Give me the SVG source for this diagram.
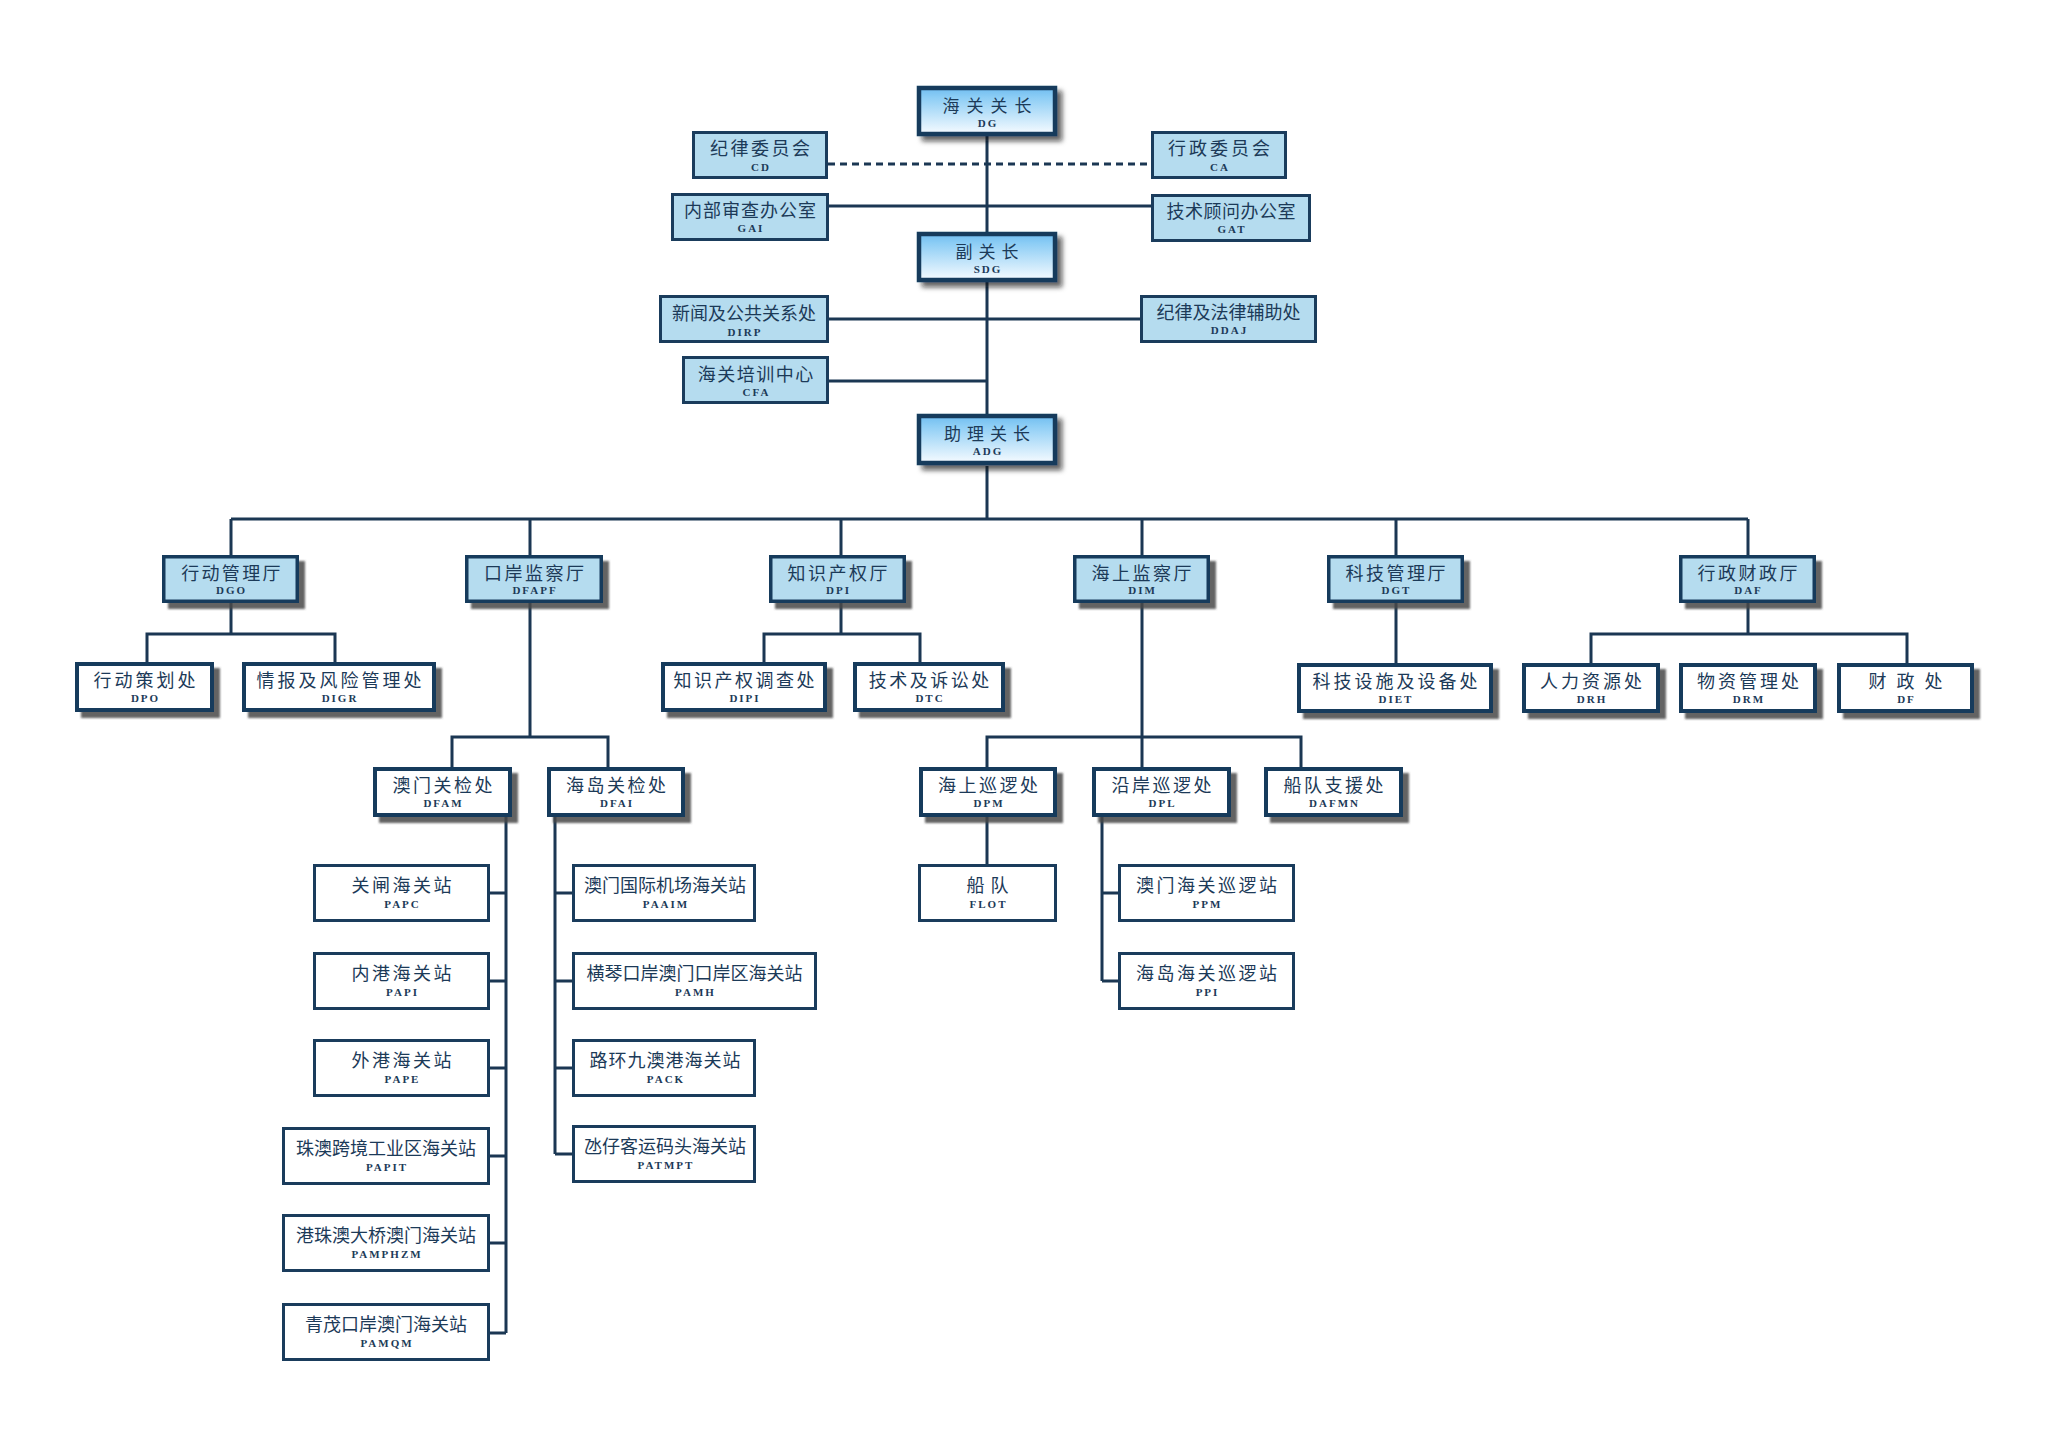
<svg xmlns="http://www.w3.org/2000/svg" width="2047" height="1440" viewBox="0 0 2047 1440">
<defs>
<linearGradient id="gtop" x1="0" y1="0" x2="0" y2="1">
<stop offset="0" stop-color="#70bdf0"/>
<stop offset="0.2" stop-color="#8ccdf5"/>
<stop offset="1" stop-color="#f6fbff"/>
</linearGradient>
<filter id="fs1" x="-20%" y="-30%" width="150%" height="170%">
<feDropShadow dx="5" dy="5" stdDeviation="2.5" flood-color="#111" flood-opacity="0.65"/>
</filter>
<filter id="fs2" x="-20%" y="-30%" width="150%" height="170%">
<feDropShadow dx="6" dy="6" stdDeviation="0.8" flood-color="#4a4a4a" flood-opacity="0.85"/>
</filter>
<style>
.bg{fill:#ffffff}
.t1{fill:url(#gtop);stroke:#123a5c;stroke-width:4.5;filter:url(#fs1)}
.t2{fill:#b5dcef;stroke:#1a3c5c;stroke-width:3}
.dp{fill:#b5dcef;stroke:#163a5c;stroke-width:3.5;filter:url(#fs2)}
.wh{fill:#ffffff;stroke:#163a5c;stroke-width:4;filter:url(#fs2)}
.st{fill:#ffffff;stroke:#1a3c5c;stroke-width:3}
.cn{font-family:"Noto Sans CJK SC","Noto Sans CJK TC",sans-serif;font-size:18px;fill:#1c3a58;text-anchor:middle}
.cn17{font-size:17px}
.ab{font-family:"Liberation Serif",serif;font-size:11px;font-weight:bold;letter-spacing:2px;fill:#1c3a58;text-anchor:middle}
.ln{fill:none;stroke:#1b3753;stroke-width:3}
.dash{fill:none;stroke:#1b3753;stroke-width:3;stroke-dasharray:7 5}
</style>
</defs>
<rect class="bg" x="0" y="0" width="2047" height="1440"/>
<g id="connectors">
<path class="dash" d="M828 164 H1151"/>
<path class="ln" d="M987 136 V232 M987 282 V414 M987 466 V519 M829 206 H1151 M829 319 H1140 M829 381 H987 M231 519 H1748 M231 519 V555 M530 519 V555 M841 519 V555 M1142 519 V555 M1396 519 V555 M1748 519 V555 M231 603 V634 M147 662 V634 H335 V662 M530 603 V737 M452 767 V737 H608 V767 M841 603 V634 M764 662 V634 H920 V662 M1142 603 V767 M987 767 V737 H1301 V767 M1396 603 V663 M1748 603 V634 M1591 663 V634 H1907 V663 M506 817 V1333 M490 893 H506 M490 981 H506 M490 1068 H506 M490 1156 H506 M490 1243 H506 M490 1333 H506 M555 817 V1154 M555 893 H572 M555 981 H572 M555 1068 H572 M555 1154 H572 M987 816 V864 M1102 816 V981 M1102 893 H1118 M1102 981 H1118"/>
</g>
<g id="DG"><rect class="t1" x="919" y="88" width="136" height="46"/><text class="cn cn17" x="990.5" y="112" style="letter-spacing:7px">海关关长</text><text class="ab" x="988" y="127">DG</text></g>
<g id="SDG"><rect class="t1" x="919" y="234" width="136" height="46"/><text class="cn cn17" x="990" y="258" style="letter-spacing:6px">副关长</text><text class="ab" x="988" y="273">SDG</text></g>
<g id="ADG"><rect class="t1" x="919" y="416" width="136" height="47"/><text class="cn cn17" x="990" y="440" style="letter-spacing:6px">助理关长</text><text class="ab" x="988" y="455">ADG</text></g>
<g id="CD"><rect class="t2" x="693.5" y="132.5" width="133" height="45"/><text class="cn" x="761.3" y="155" style="letter-spacing:2.5px">纪律委员会</text><text class="ab" x="761" y="171">CD</text></g>
<g id="CA"><rect class="t2" x="1152.5" y="132.5" width="133" height="45"/><text class="cn" x="1220.5" y="155" style="letter-spacing:3px">行政委员会</text><text class="ab" x="1220" y="171">CA</text></g>
<g id="GAI"><rect class="t2" x="672.5" y="194.5" width="155" height="45"/><text class="cn" x="750.5" y="217" style="letter-spacing:1px">内部审查办公室</text><text class="ab" x="751" y="232">GAI</text></g>
<g id="GAT"><rect class="t2" x="1152.5" y="195.5" width="157" height="45"/><text class="cn" x="1231.3" y="218" style="letter-spacing:0.5px">技术顾问办公室</text><text class="ab" x="1232" y="233">GAT</text></g>
<g id="DIRP"><rect class="t2" x="660.5" y="296.5" width="167" height="45"/><text class="cn" x="744" y="320">新闻及公共关系处</text><text class="ab" x="745" y="336">DIRP</text></g>
<g id="DDAJ"><rect class="t2" x="1141.5" y="296.5" width="174" height="45"/><text class="cn" x="1228.5" y="319">纪律及法律辅助处</text><text class="ab" x="1229.5" y="334">DDAJ</text></g>
<g id="CFA"><rect class="t2" x="683.5" y="357.5" width="144" height="45"/><text class="cn" x="756.3" y="381" style="letter-spacing:1.5px">海关培训中心</text><text class="ab" x="756.5" y="396">CFA</text></g>
<g id="DGO"><rect class="dp" x="163.75" y="556.75" width="133.5" height="44.5"/><text class="cn" x="232" y="580" style="letter-spacing:2.3px">行动管理厅</text><text class="ab" x="231.5" y="594">DGO</text></g>
<g id="DFAPF"><rect class="dp" x="466.75" y="556.75" width="134.5" height="44.5"/><text class="cn" x="535.3" y="580" style="letter-spacing:2.5px">口岸监察厅</text><text class="ab" x="535" y="594">DFAPF</text></g>
<g id="DPI"><rect class="dp" x="770.75" y="556.75" width="133.5" height="44.5"/><text class="cn" x="838.8" y="580" style="letter-spacing:2.5px">知识产权厅</text><text class="ab" x="838.5" y="594">DPI</text></g>
<g id="DIM"><rect class="dp" x="1074.75" y="556.75" width="133.5" height="44.5"/><text class="cn" x="1142.8" y="580" style="letter-spacing:2.5px">海上监察厅</text><text class="ab" x="1142.5" y="594">DIM</text></g>
<g id="DGT"><rect class="dp" x="1328.75" y="556.75" width="133.5" height="44.5"/><text class="cn" x="1396.8" y="580" style="letter-spacing:2.5px">科技管理厅</text><text class="ab" x="1396.5" y="594">DGT</text></g>
<g id="DAF"><rect class="dp" x="1680.75" y="556.75" width="133.5" height="44.5"/><text class="cn" x="1748.8" y="580" style="letter-spacing:2.5px">行政财政厅</text><text class="ab" x="1748.5" y="594">DAF</text></g>
<g id="DPO"><rect class="wh" x="77" y="664" width="135" height="46"/><text class="cn" x="146" y="687" style="letter-spacing:3px">行动策划处</text><text class="ab" x="145.5" y="702">DPO</text></g>
<g id="DIGR"><rect class="wh" x="244" y="664" width="190" height="46"/><text class="cn" x="340.5" y="687" style="letter-spacing:3px">情报及风险管理处</text><text class="ab" x="340" y="702">DIGR</text></g>
<g id="DIPI"><rect class="wh" x="663" y="664" width="162" height="46"/><text class="cn" x="745.3" y="687" style="letter-spacing:2.5px">知识产权调查处</text><text class="ab" x="745" y="702">DIPI</text></g>
<g id="DTC"><rect class="wh" x="855" y="664" width="148" height="46"/><text class="cn" x="930.3" y="687" style="letter-spacing:2.5px">技术及诉讼处</text><text class="ab" x="930" y="702">DTC</text></g>
<g id="DIET"><rect class="wh" x="1299" y="665" width="192" height="46"/><text class="cn" x="1396.5" y="688" style="letter-spacing:3px">科技设施及设备处</text><text class="ab" x="1396" y="703">DIET</text></g>
<g id="DRH"><rect class="wh" x="1524" y="665" width="134" height="46"/><text class="cn" x="1592.5" y="688" style="letter-spacing:3px">人力资源处</text><text class="ab" x="1592" y="703">DRH</text></g>
<g id="DRM"><rect class="wh" x="1681" y="665" width="134" height="46"/><text class="cn" x="1749.5" y="688" style="letter-spacing:3px">物资管理处</text><text class="ab" x="1749" y="703">DRM</text></g>
<g id="DF"><rect class="wh" x="1839" y="665" width="133" height="46"/><text class="cn" x="1910.5" y="688" style="letter-spacing:10px">财政处</text><text class="ab" x="1906.5" y="703">DF</text></g>
<g id="DFAM"><rect class="wh" x="375" y="769" width="135" height="46"/><text class="cn" x="443.8" y="792" style="letter-spacing:2.5px">澳门关检处</text><text class="ab" x="443.5" y="807">DFAM</text></g>
<g id="DFAI"><rect class="wh" x="549" y="769" width="134" height="46"/><text class="cn" x="617.3" y="792" style="letter-spacing:2.5px">海岛关检处</text><text class="ab" x="617" y="807">DFAI</text></g>
<g id="DPM"><rect class="wh" x="921" y="769" width="134" height="46"/><text class="cn" x="989.3" y="792" style="letter-spacing:2.5px">海上巡逻处</text><text class="ab" x="989" y="807">DPM</text></g>
<g id="DPL"><rect class="wh" x="1094" y="769" width="135" height="46"/><text class="cn" x="1162.8" y="792" style="letter-spacing:2.5px">沿岸巡逻处</text><text class="ab" x="1162.5" y="807">DPL</text></g>
<g id="DAFMN"><rect class="wh" x="1266" y="769" width="135" height="46"/><text class="cn" x="1334.8" y="792" style="letter-spacing:2.5px">船队支援处</text><text class="ab" x="1334.5" y="807">DAFMN</text></g>
<g id="PAPC"><rect class="st" x="314.5" y="865.5" width="174" height="55"/><text class="cn" x="402.8" y="892" style="letter-spacing:2.5px">关闸海关站</text><text class="ab" x="402.5" y="908">PAPC</text></g>
<g id="PAPI"><rect class="st" x="314.5" y="953.5" width="174" height="55"/><text class="cn" x="402.8" y="980" style="letter-spacing:2.5px">内港海关站</text><text class="ab" x="402.5" y="996">PAPI</text></g>
<g id="PAPE"><rect class="st" x="314.5" y="1040.5" width="174" height="55"/><text class="cn" x="402.8" y="1067" style="letter-spacing:2.5px">外港海关站</text><text class="ab" x="402.5" y="1083">PAPE</text></g>
<g id="PAPIT"><rect class="st" x="283.5" y="1128.5" width="205" height="55"/><text class="cn" x="386" y="1155">珠澳跨境工业区海关站</text><text class="ab" x="387" y="1171">PAPIT</text></g>
<g id="PAMPHZM"><rect class="st" x="283.5" y="1215.5" width="205" height="55"/><text class="cn" x="386" y="1242">港珠澳大桥澳门海关站</text><text class="ab" x="387" y="1258">PAMPHZM</text></g>
<g id="PAMQM"><rect class="st" x="283.5" y="1304.5" width="205" height="55"/><text class="cn" x="386" y="1331">青茂口岸澳门海关站</text><text class="ab" x="387" y="1347">PAMQM</text></g>
<g id="PAAIM"><rect class="st" x="573.5" y="865.5" width="181" height="55"/><text class="cn" x="665" y="892">澳门国际机场海关站</text><text class="ab" x="666" y="908">PAAIM</text></g>
<g id="PAMH"><rect class="st" x="573.5" y="953.5" width="242" height="55"/><text class="cn" x="694.5" y="980">横琴口岸澳门口岸区海关站</text><text class="ab" x="695.5" y="996">PAMH</text></g>
<g id="PACK"><rect class="st" x="573.5" y="1040.5" width="181" height="55"/><text class="cn" x="665.5" y="1067" style="letter-spacing:1px">路环九澳港海关站</text><text class="ab" x="666" y="1083">PACK</text></g>
<g id="PATMPT"><rect class="st" x="573.5" y="1126.5" width="181" height="55"/><text class="cn" x="665" y="1153">氹仔客运码头海关站</text><text class="ab" x="666" y="1169">PATMPT</text></g>
<g id="FLOT"><rect class="st" x="919.5" y="865.5" width="136" height="55"/><text class="cn" x="990.5" y="892" style="letter-spacing:6px">船队</text><text class="ab" x="988.5" y="908">FLOT</text></g>
<g id="PPM"><rect class="st" x="1119.5" y="865.5" width="174" height="55"/><text class="cn" x="1207.8" y="892" style="letter-spacing:2.5px">澳门海关巡逻站</text><text class="ab" x="1207.5" y="908">PPM</text></g>
<g id="PPI"><rect class="st" x="1119.5" y="953.5" width="174" height="55"/><text class="cn" x="1207.8" y="980" style="letter-spacing:2.5px">海岛海关巡逻站</text><text class="ab" x="1207.5" y="996">PPI</text></g>
</svg>
